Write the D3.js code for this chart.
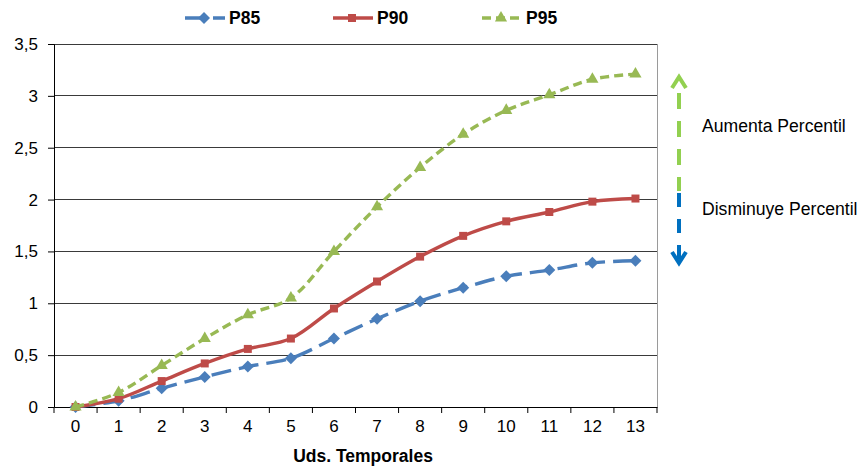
<!DOCTYPE html>
<html>
<head>
<meta charset="utf-8">
<script src="https://cdn.jsdelivr.net/npm/d3@7"></script>
<style>
  body { margin: 0; background: #fff; }
  text { font-family: "Liberation Sans", Arial, sans-serif; }
</style>
</head>
<body>
<script>
"use strict";

// data
var periods = [0, 1, 2, 3, 4, 5, 6, 7, 8, 9, 10, 11, 12, 13];
var p85 = [0, 0.06, 0.18, 0.29, 0.39, 0.47, 0.66, 0.85, 1.02, 1.15, 1.26, 1.32, 1.39, 1.41];
var p90 = [0, 0.08, 0.25, 0.42, 0.56, 0.66, 0.95, 1.21, 1.45, 1.65, 1.79, 1.88, 1.98, 2.01];
var p95 = [0, 0.14, 0.40, 0.66, 0.89, 1.05, 1.50, 1.93, 2.31, 2.63, 2.86, 3.01, 3.16, 3.21];
var yTicks = [0, 0.5, 1, 1.5, 2, 2.5, 3, 3.5];
var seriesNames = ["P85", "P90", "P95"];
var notes = ["Aumenta Percentil", "Disminuye Percentil"];

var width = 864, height = 467;
var plot = {left: 54, right: 657, top: 44, bottom: 407};

var svg = d3.select("body").append("svg")
    .attr("width", width)
    .attr("height", height);

var x = d3.scaleBand().domain(periods).range([plot.left, plot.right]);
var y = d3.scaleLinear().domain([0, 3.5]).range([plot.bottom, plot.top]);
var cx = function(d) { return x(d) + x.bandwidth() / 2; };

// excel-like square diamond marker
var squareDiamond = {
  draw: function(ctx, size) {
    var r = Math.sqrt(size / 2);
    ctx.moveTo(0, -r); ctx.lineTo(r, 0); ctx.lineTo(0, r); ctx.lineTo(-r, 0); ctx.closePath();
  }
};

// gridlines
svg.append("g")
  .selectAll("line")
  .data(yTicks.filter(function(d) { return d > 0; }))
  .join("line")
    .attr("x1", plot.left).attr("x2", plot.right)
    .attr("y1", function(d) { return y(d); })
    .attr("y2", function(d) { return y(d); })
    .attr("stroke", "#3a3a3a")
    .attr("stroke-width", 1)
    .attr("shape-rendering", "crispEdges");

// right border of plot
svg.append("line")
    .attr("x1", plot.right).attr("x2", plot.right)
    .attr("y1", plot.top).attr("y2", plot.bottom)
    .attr("stroke", "#9a9a9a")
    .attr("shape-rendering", "crispEdges");

// y axis
var yAxis = svg.append("g")
    .attr("transform", "translate(" + plot.left + ",0)")
    .call(d3.axisLeft(y).tickValues(yTicks).tickSize(6).tickPadding(10)
      .tickFormat(function(d) { return String(d).replace(".", ","); }));
yAxis.select(".domain").attr("stroke", "#000");
yAxis.selectAll(".tick line").attr("stroke", "#000");
yAxis.selectAll("text").attr("font-size", 17).attr("fill", "#000");

// x axis, ticks on category boundaries
var xAxis = svg.append("g")
    .attr("transform", "translate(0," + plot.bottom + ")")
    .call(d3.axisBottom(x).tickSize(0).tickPadding(13));
xAxis.select(".domain").attr("stroke", "#000");
xAxis.selectAll("text").attr("font-size", 17).attr("fill", "#000");
xAxis.selectAll(".bound")
  .data(periods.concat([periods.length]))
  .join("line")
    .attr("class", "bound")
    .attr("x1", function(d, i) { return plot.left + i * x.bandwidth(); })
    .attr("x2", function(d, i) { return plot.left + i * x.bandwidth(); })
    .attr("y1", 0).attr("y2", 6)
    .attr("stroke", "#000");

svg.append("text")
    .attr("x", 363).attr("y", 462)
    .attr("text-anchor", "middle")
    .attr("font-size", 17.5).attr("font-weight", "bold")
    .text("Uds. Temporales");

// series styling
var styles = [
  {color: "#4a7ebb", dash: "20,8", shape: squareDiamond, size: 72},
  {color: "#be4b48", dash: null, shape: d3.symbolSquare, size: 64},
  {color: "#98b954", dash: "9,5", shape: d3.symbolTriangle, size: 64}
];
var allSeries = [p85, p90, p95];

var line = d3.line()
    .x(function(d, i) { return cx(periods[i]); })
    .y(function(d) { return y(d); })
    .curve(d3.curveCatmullRom.alpha(0.5));

allSeries.forEach(function(vals, s) {
  var st = styles[s];
  var g = svg.append("g");
  g.append("path")
      .datum(vals)
      .attr("fill", "none")
      .attr("stroke", st.color)
      .attr("stroke-width", 3.4)
      .attr("stroke-dasharray", st.dash)
      .attr("d", line);
  g.selectAll("path.m")
    .data(vals)
    .join("path")
      .attr("class", "m")
      .attr("transform", function(d, i) { return "translate(" + cx(periods[i]) + "," + y(d) + ")"; })
      .attr("d", d3.symbol().type(st.shape).size(st.size))
      .attr("fill", st.color);
});

// legend
var legendX = [185, 333, 482];
seriesNames.forEach(function(name, s) {
  var st = styles[s], lx = legendX[s];
  var g = svg.append("g").attr("transform", "translate(" + lx + ",18)");
  g.append("line")
      .attr("x1", 0).attr("x2", 40)
      .attr("stroke", st.color).attr("stroke-width", 3.4)
      .attr("stroke-dasharray", st.dash);
  g.append("path")
      .attr("transform", "translate(19,0)")
      .attr("d", d3.symbol().type(st.shape).size(st.size))
      .attr("fill", st.color);
  g.append("text")
      .attr("x", 44).attr("y", 6)
      .attr("font-size", 17.5).attr("font-weight", "bold")
      .text(name);
});

// percentile arrow on the right
var ax = 679;
svg.append("line")
    .attr("x1", ax).attr("x2", ax).attr("y1", 86).attr("y2", 191)
    .attr("stroke", "#92d050").attr("stroke-width", 4)
    .attr("stroke-dasharray", "16,12").attr("stroke-dashoffset", -7);
svg.append("path")
    .attr("d", "M" + (ax - 7) + ",88 L" + ax + ",77 L" + (ax + 7) + ",88")
    .attr("fill", "none").attr("stroke", "#92d050").attr("stroke-width", 4);
svg.append("line")
    .attr("x1", ax).attr("x2", ax).attr("y1", 193).attr("y2", 262)
    .attr("stroke", "#0070c0").attr("stroke-width", 4)
    .attr("stroke-dasharray", "14,12");
svg.append("path")
    .attr("d", "M" + (ax - 7) + ",252 L" + ax + ",263 L" + (ax + 7) + ",252")
    .attr("fill", "none").attr("stroke", "#0070c0").attr("stroke-width", 4);

svg.selectAll("text.note")
  .data(notes)
  .join("text")
    .attr("class", "note")
    .attr("x", 702)
    .attr("y", function(d, i) { return i === 0 ? 132 : 215; })
    .attr("font-size", 17.6)
    .attr("fill", "#000")
    .text(function(d) { return d; });
</script>
</body>
</html>
